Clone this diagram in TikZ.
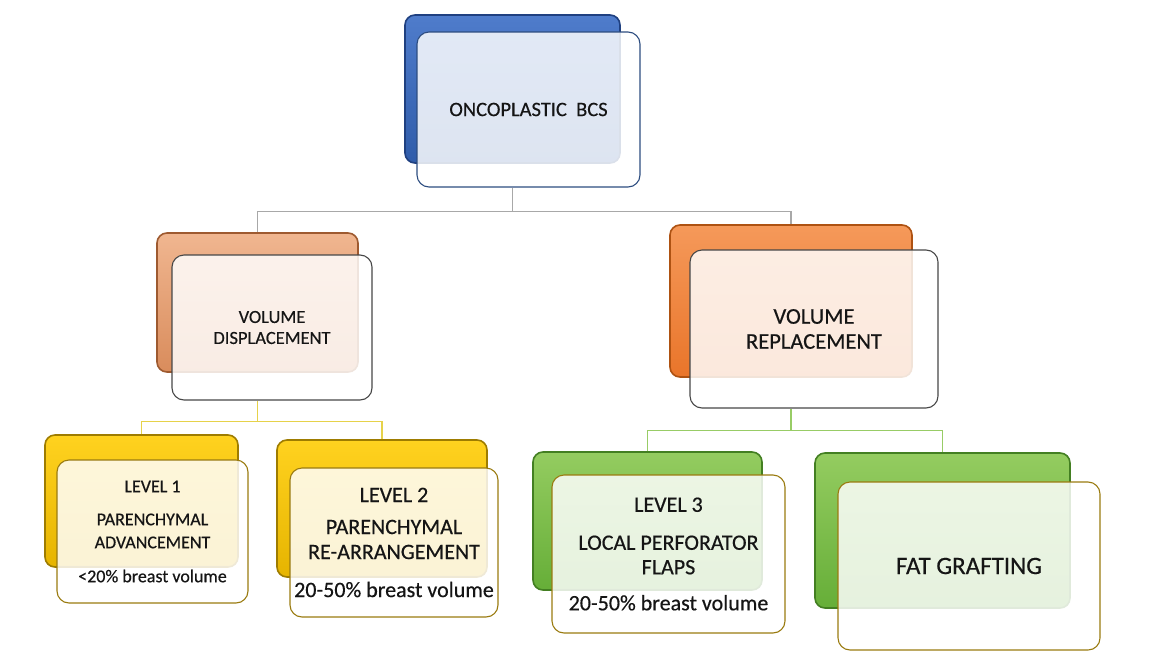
\documentclass[tikz,border=0pt]{standalone}
\usepackage{fontspec}
\setmainfont{Carlito}
\newfontfamily\lbl{Carlito}[FakeBold=0.45]
\usetikzlibrary{backgrounds}
\definecolor{blueLight}{HTML}{4F7CCB}
\definecolor{blueMain}{HTML}{2F5CAA}
\definecolor{blueDark}{HTML}{1F4080}
\definecolor{peachLight}{HTML}{F0B690}
\definecolor{peachMain}{HTML}{D98C5C}
\definecolor{peachDark}{HTML}{9E5A30}
\definecolor{orangeLight}{HTML}{F5995A}
\definecolor{orangeMain}{HTML}{E9752A}
\definecolor{orangeDark}{HTML}{AE5212}
\definecolor{yellowLight}{HTML}{FFD21F}
\definecolor{yellowMain}{HTML}{E6B400}
\definecolor{yellowDark}{HTML}{9E7C00}
\definecolor{greenLight}{HTML}{94CC60}
\definecolor{greenMain}{HTML}{66AE38}
\definecolor{greenDark}{HTML}{437F22}
\definecolor{txt}{HTML}{151515}
\definecolor{lineGray}{HTML}{A8A8A8}
\definecolor{lineYellow}{HTML}{E6D24A}
\definecolor{lineGreen}{HTML}{98CC66}
\definecolor{edgeBlue}{HTML}{2D4D80}
\definecolor{edgeGray}{HTML}{474747}
\definecolor{edgeGold}{HTML}{9A7B10}
\begin{document}
\begin{tikzpicture}[x=1pt,y=-1pt,
  backbox/.style={rounded corners=10pt, draw=#1Dark, line width=1.6pt,
    top color=#1Light, bottom color=#1Main, inner sep=0pt},
  frontbox/.style={rounded corners=12pt, draw=#1, line width=1.1pt,
    fill=white, fill opacity=0.84, text opacity=1, align=center, text=txt, inner sep=0pt},
  conn/.style={draw=#1, line width=1.3pt}
]
\useasboundingbox (0,0) rectangle (1158,653);

% back boxes
\node[backbox=blue,   minimum width=215pt, minimum height=148pt] (topB) at (512.5,89) {};
\node[backbox=peach,  minimum width=201pt, minimum height=139pt] (vdB) at (257.5,302.5) {};
\node[backbox=orange, minimum width=242pt, minimum height=152pt] (vrB) at (791,301) {};
\node[backbox=yellow, minimum width=193pt, minimum height=132pt] (l1B) at (141.5,501) {};
\node[backbox=yellow, minimum width=210pt, minimum height=137pt] (l2B) at (382,508.5) {};
\node[backbox=green,  minimum width=229pt, minimum height=138pt] (l3B) at (647.5,521) {};
\node[backbox=green,  minimum width=255pt, minimum height=155pt] (fatB) at (942.5,530.5) {};

% front boxes with text
\node[frontbox=edgeBlue, minimum width=223pt, minimum height=155pt,
  font=\lbl\fontsize{20.5}{24}\selectfont] (topF) at (528.5,109.5) {ONCOPLASTIC\ \ BCS};
\node[frontbox=edgeGray, minimum width=200pt, minimum height=145pt,
  font=\lbl\fontsize{18.5}{21}\selectfont] (vdF) at (272,327.5) {VOLUME\\DISPLACEMENT};
\node[frontbox=edgeGray, minimum width=248pt, minimum height=158pt,
  font=\lbl\fontsize{22.5}{25}\selectfont] (vrF) at (814,329) {VOLUME\\REPLACEMENT};
\node[frontbox=edgeGold, minimum width=191pt, minimum height=143pt,
  font=\lbl\fontsize{18}{23}\selectfont] (l1F) at (152.5,531.5)
  {LEVEL 1\\[10pt]PARENCHYMAL\\ADVANCEMENT\\[11pt]<20\% breast volume};
\node[frontbox=edgeGold, minimum width=208pt, minimum height=149pt,
  font=\lbl\fontsize{22}{25}\selectfont] (l2F) at (394,542.5)
  {LEVEL 2\\[7pt]PARENCHYMAL\\RE-ARRANGEMENT\\[13pt]20-50\% breast volume};
\node[frontbox=edgeGold, minimum width=233pt, minimum height=158pt,
  font=\lbl\fontsize{22}{24.5}\selectfont] (l3F) at (668.5,554)
  {LEVEL 3\\[13.5pt]LOCAL PERFORATOR\\FLAPS\\[11.5pt]20-50\% breast volume};
\node[frontbox=edgeGold, minimum width=262pt, minimum height=168pt,
  font=\lbl\fontsize{25}{28}\selectfont] (fatF) at (969,566) {FAT GRAFTING};

% connectors (behind all boxes)
\begin{scope}[on background layer]
\draw[conn=lineGray] (topB.south |- topF.south) -- ++(0,24) coordinate (busA) -| (vdB.north);
\draw[conn=lineGray] (busA) -| (vrB.north);
\draw[conn=lineYellow] (vdB.south |- vdF.south) -- ++(0,21) coordinate (busB) -| (l1B.north);
\draw[conn=lineYellow] (busB) -| (l2B.north);
\draw[conn=lineGreen] (vrB.south |- vrF.south) -- ++(0,22) coordinate (busC) -| (l3B.north);
\draw[conn=lineGreen] (busC) -| (fatB.north);
\end{scope}
\end{tikzpicture}
\end{document}
